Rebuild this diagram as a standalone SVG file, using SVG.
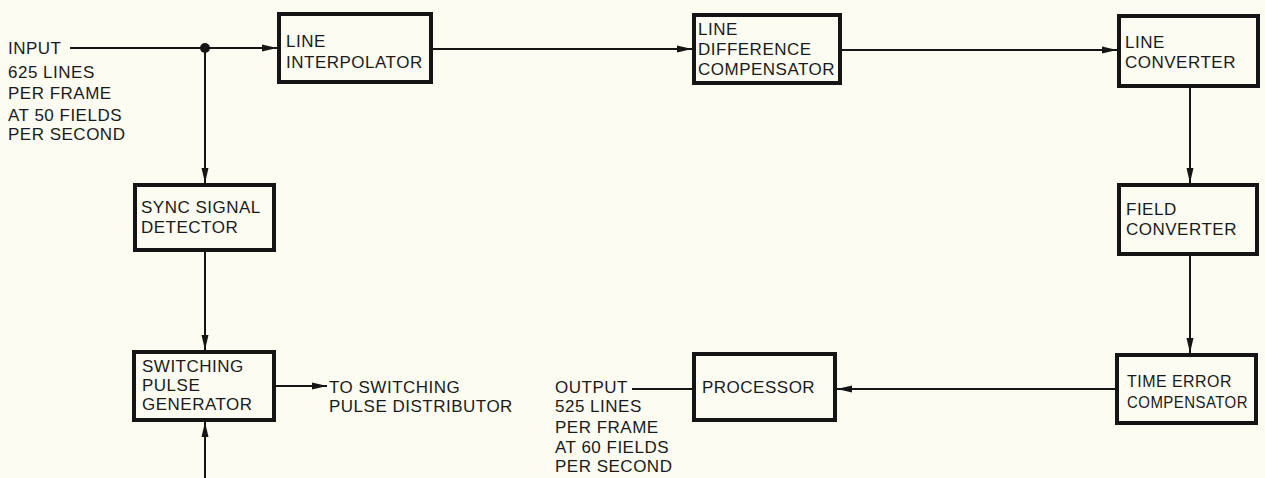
<svg xmlns="http://www.w3.org/2000/svg" width="1265" height="478" viewBox="0 0 1265 478">
<style>
.bg{fill:#fcfcf2}
.box{fill:#fcfcf2;stroke:#151515;stroke-width:4}
.t{font-family:"Liberation Sans",Arial,sans-serif;font-size:17px;letter-spacing:0.5px;fill:#1a1a1a}
.c{stroke:#151515;stroke-width:2;fill:none}
.a{marker-end:url(#ah)}
</style>
<defs>
<marker id="ah" markerUnits="userSpaceOnUse" markerWidth="16" markerHeight="8" refX="15" refY="4" orient="auto">
<path d="M0,0.5 L15,4 L0,7.5 z" fill="#151515"/>
</marker>
</defs>
<rect class="bg" x="0" y="0" width="1265" height="478"/>
<g id="connectors">
<line class="c a" x1="70" y1="48" x2="277" y2="48"/>
<circle cx="205" cy="48" r="5" fill="#151515"/>
<line class="c a" x1="205" y1="48" x2="205" y2="183"/>
<line class="c a" x1="433" y1="49" x2="692" y2="49"/>
<line class="c a" x1="842" y1="50" x2="1117" y2="50"/>
<line class="c a" x1="1190" y1="88" x2="1190" y2="183"/>
<line class="c a" x1="1190" y1="256" x2="1190" y2="353"/>
<line class="c a" x1="1115" y1="389" x2="837" y2="389"/>
<line class="c" x1="692" y1="389" x2="632" y2="389"/>
<line class="c a" x1="205" y1="252" x2="205" y2="350"/>
<line class="c a" x1="276" y1="386" x2="327" y2="386"/>
<line class="c a" x1="205" y1="478" x2="205" y2="422"/>
</g>
<g id="input-label">
<text class="t" x="8" y="54">INPUT</text>
<text class="t" x="8" y="78">625 LINES</text>
<text class="t" x="8" y="99">PER FRAME</text>
<text class="t" x="8" y="121">AT 50 FIELDS</text>
<text class="t" x="8" y="140">PER SECOND</text>
</g>
<g id="line-interpolator">
<rect class="box" x="279" y="14" width="152" height="68"/>
<text class="t" x="286" y="47">LINE</text>
<text class="t" x="286" y="68">INTERPOLATOR</text>
</g>
<g id="line-difference-compensator">
<rect class="box" x="694" y="15" width="146" height="68"/>
<text class="t" x="698" y="35">LINE</text>
<text class="t" x="698" y="55">DIFFERENCE</text>
<text class="t" x="698" y="75">COMPENSATOR</text>
</g>
<g id="line-converter">
<rect class="box" x="1119" y="16" width="139" height="70"/>
<text class="t" x="1125" y="48">LINE</text>
<text class="t" x="1125" y="68">CONVERTER</text>
</g>
<g id="field-converter">
<rect class="box" x="1119" y="185" width="138" height="69"/>
<text class="t" x="1126" y="215">FIELD</text>
<text class="t" x="1126" y="235">CONVERTER</text>
</g>
<g id="time-error-compensator">
<rect class="box" x="1117" y="355" width="139" height="68"/>
<text class="t" x="1127" y="387" textLength="105" lengthAdjust="spacingAndGlyphs">TIME ERROR</text>
<text class="t" x="1127" y="408" textLength="121" lengthAdjust="spacingAndGlyphs">COMPENSATOR</text>
</g>
<g id="processor">
<rect class="box" x="694" y="354" width="141" height="66"/>
<text class="t" x="702" y="393">PROCESSOR</text>
</g>
<g id="output-label">
<text class="t" x="555" y="393">OUTPUT</text>
<text class="t" x="555" y="412">525 LINES</text>
<text class="t" x="555" y="433">PER FRAME</text>
<text class="t" x="555" y="453">AT 60 FIELDS</text>
<text class="t" x="555" y="472">PER SECOND</text>
</g>
<g id="sync-signal-detector">
<rect class="box" x="135" y="185" width="139" height="65"/>
<text class="t" x="141" y="213">SYNC SIGNAL</text>
<text class="t" x="141" y="233">DETECTOR</text>
</g>
<g id="switching-pulse-generator">
<rect class="box" x="134" y="352" width="140" height="68"/>
<text class="t" x="142" y="372">SWITCHING</text>
<text class="t" x="142" y="391">PULSE</text>
<text class="t" x="142" y="410">GENERATOR</text>
</g>
<g id="switching-output-label">
<text class="t" x="329" y="393">TO SWITCHING</text>
<text class="t" x="329" y="412">PULSE DISTRIBUTOR</text>
</g>
</svg>
